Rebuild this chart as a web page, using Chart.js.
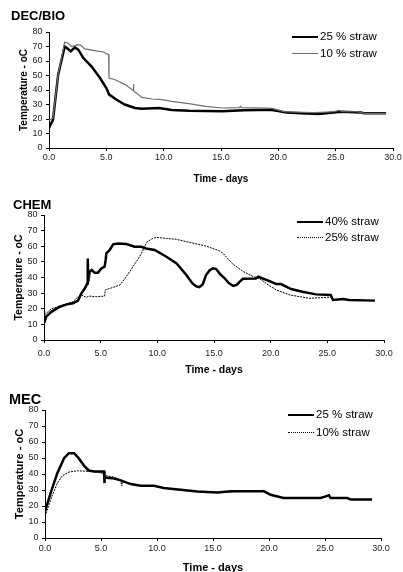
<!DOCTYPE html>
<html>
<head>
<meta charset="utf-8">
<script src="https://cdn.jsdelivr.net/npm/chart.js@4/dist/chart.umd.min.js"></script>
<style>
    body { margin: 0; background: #fff; }
    #page { position: relative; width: 403px; height: 572px; overflow: hidden; font-family: "Liberation Sans", Arial, sans-serif; }
    canvas { position: absolute; left: 0; }
    .title { position: absolute; font-weight: bold; color: #000; line-height: 16px; }
    .key { position: absolute; font-size: 11.5px; line-height: 14px; color: #000; white-space: nowrap; }
    .key .swatch { position: absolute; top: 7px; width: 26px; }
</style>
</head>
<body>
<div id="page">
    <canvas id="decBio" width="403" height="190" style="top:0px"></canvas>
    <canvas id="chem" width="403" height="190" style="top:190px"></canvas>
    <canvas id="mec" width="403" height="192" style="top:380px"></canvas>
</div>
<script>
// Panel titles and legend labels
const panelTitles = ['DEC/BIO', 'CHEM', 'MEC'];
const decBioLabels = ['25 % straw', '10 % straw'];
const chemLabels = ['40% straw', '25% straw'];
const mecLabels = ['25 % straw', '10% straw'];

// DEC/BIO - time in days and temperature in oC
const decBio25Days = [0, 0.35, 0.8, 1.37, 1.55, 1.9, 2.25, 2.55, 3.0, 3.7, 4.45, 5.0, 5.25, 5.9, 6.6, 7.5, 8.1, 9.6, 10.7, 12.2, 15.1, 17, 19.3, 20.0, 20.7, 22, 23.5, 25.5, 27.2, 27.5, 29.4];
const decBio25Temp = [13.8, 19.5, 50.6, 70, 69, 66.7, 69.4, 67.8, 62, 56.3, 48.3, 41.4, 36.8, 33.3, 30, 27.6, 27.1, 27.6, 26.2, 25.7, 25.3, 26, 26.3, 25.5, 24.4, 24, 23.5, 25, 24.5, 23.9, 23.9];
const decBio10Days = [0, 0.35, 0.8, 1.37, 1.67, 1.96, 2.25, 2.54, 2.78, 3.13, 4.0, 4.74, 5.2, 5.23, 5.76, 6.64, 7.35, 7.37, 7.4, 8.1, 9.0, 9.85, 10.7, 12.2, 13.65, 15.1, 16.6, 16.7, 16.8, 19.0, 19.5, 20.5, 23.1, 24.8, 25.3, 25.6, 26.9, 27.5, 29.4];
const decBio10Temp = [19, 20.7, 51, 73, 72.4, 70, 70.6, 71.3, 70.8, 68.3, 67.1, 66.2, 64.4, 48.3, 47.1, 43.7, 39.6, 44.1, 39.4, 34.9, 33.8, 33.3, 32.2, 30.6, 28.7, 27.6, 27.8, 28.7, 27.8, 27.6, 27.3, 25, 24.4, 25, 26, 25, 25, 23.9, 23.9];

// CHEM
const chem40Days = [0, 0.2, 0.65, 1.4, 2.0, 2.55, 3.0, 3.3, 3.6, 3.82, 3.86, 3.9, 4.03, 4.2, 4.47, 4.76, 5.06, 5.35, 5.44, 5.5, 5.8, 6.1, 6.53, 7.26, 8.0, 8.6, 9.0, 9.76, 10.8, 11.7, 12.56, 13.1, 13.4, 13.7, 14.0, 14.3, 14.6, 14.9, 15.2, 15.5, 15.94, 16.3, 16.7, 17.0, 17.3, 17.55, 18.7, 18.9, 19.9, 20.5, 20.9, 21.8, 22.8, 24.0, 25.3, 25.5, 26.4, 26.9, 29.2];
const chem40Temp = [10.7, 15, 18, 21.3, 22.8, 23.5, 25.2, 29.9, 33, 36.2, 52.2, 37.3, 43.7, 44.8, 43.1, 43.1, 45.8, 46.9, 51.2, 55.4, 57.6, 61.2, 61.8, 61.4, 59.7, 59.7, 58.6, 57.6, 53.3, 49, 41.6, 36.2, 34.5, 33.8, 35.5, 41.6, 44.5, 45.9, 45.4, 42.5, 39.5, 36.5, 34.6, 35.3, 37.5, 39.2, 39.4, 40.5, 37.7, 35.8, 35.8, 32.6, 30.9, 29.2, 28.8, 25.6, 26.2, 25.6, 25.2];
const chem25Days = [0, 0.1, 0.65, 1.4, 2.55, 3.0, 3.3, 3.73, 4.0, 4.6, 5.35, 5.4, 6.1, 6.7, 7.26, 7.85, 8.44, 8.88, 9.1, 9.6, 9.9, 10.8, 11.7, 12.85, 14.3, 15.5, 15.8, 16.6, 17.6, 18.5, 19.0, 19.8, 20.5, 21.7, 23.4, 25.05, 25.3];
const chem25Temp = [20.5, 16.5, 20.0, 21.7, 24.5, 27.7, 28.8, 27.3, 28.1, 27.7, 28.1, 32, 33.7, 35.2, 40.5, 46.9, 53.3, 59.7, 62.9, 65, 65.7, 65, 64.4, 62.5, 60.1, 57, 55.5, 49, 43.7, 40.5, 39.4, 35.2, 32, 28.8, 26.7, 27.3, 27.3];

// MEC
const mec25Days = [0, 0.5, 1.1, 1.7, 2.14, 2.6, 3.0, 3.5, 3.9, 4.4, 5.27, 5.3, 5.33, 6.0, 6.76, 7.65, 8.54, 9.73, 10.6, 12.1, 13.6, 15.4, 16.6, 19.55, 20.15, 21.3, 24.6, 25.06, 25.35, 25.5, 27.0, 27.3, 29.2];
const mec25Temp = [16.6, 28, 40.5, 49.9, 53, 53, 49.9, 45.1, 42.2, 41.6, 41.6, 34.3, 37.8, 37.4, 36, 33.7, 32.6, 32.6, 31.2, 30.1, 29.1, 28.5, 29.2, 29.2, 27, 25, 25, 26, 26.7, 25, 25, 24, 24];
const mec10Days = [0, 0.5, 1.1, 1.55, 2.14, 2.9, 4.1, 4.8, 5.27, 5.42, 6.2, 6.76, 6.85, 7.0, 7.65, 8.54, 9.73, 10.6, 12.1, 13.6, 15.4, 16.6, 19.55, 20.15, 21.3, 24.6, 25.06, 25.35, 25.5, 27.0, 27.3, 29.2];
const mec10Temp = [13.5, 23.9, 34.3, 38.9, 41.2, 42, 41.6, 41, 40.1, 38.9, 38, 36.4, 32.6, 35.5, 33.9, 32.8, 32.8, 31.2, 30.1, 29.1, 28.3, 28.8, 29.8, 27.2, 25, 25, 25.8, 26.3, 25, 25, 24, 24];

function toPoints(days, temps) {
    return days.map((d, i) => ({ x: d, y: temps[i] }));
}

const thick = { borderColor: '#000', borderWidth: 2.5 };
const thinGrey = { borderColor: '#6e6e6e', borderWidth: 1.2 };
const dotted = { borderColor: '#000', borderWidth: 1, borderDash: [2, 1] };

// layout of each panel inside its canvas
const panels = [
    {
        id: 'decBio', top: 0, padTop: 32, padRight: 10, yWidth: 49, xHeight: 42,
        xTickPad: 1, xTitlePad: 5, yTitlePad: 18.5, titleSize: 10,
        series: [
            Object.assign({ data: toPoints(decBio10Days, decBio10Temp) }, thinGrey),
            Object.assign({ data: toPoints(decBio25Days, decBio25Temp) }, thick)
        ],
        title: { left: 11, mid: 16, size: 13 },
        keys: [
            { label: decBioLabels[0], left: 292, mid: 36, line: '2.5px solid #000' },
            { label: decBioLabels[1], left: 292, mid: 53, line: '1px solid #6e6e6e' }
        ]
    },
    {
        id: 'chem', top: 190, padTop: 25, padRight: 19, yWidth: 44, xHeight: 40,
        xTickPad: 5.5, xTitlePad: 4, yTitlePad: 12.5, titleSize: 10.5,
        series: [
            Object.assign({ data: toPoints(chem25Days, chem25Temp) }, dotted),
            Object.assign({ data: toPoints(chem40Days, chem40Temp) }, thick)
        ],
        title: { left: 13, mid: 205, size: 13 },
        keys: [
            { label: chemLabels[0], left: 297, mid: 221, line: '2.5px solid #000' },
            { label: chemLabels[1], left: 297, mid: 237, line: '1px dotted #000' }
        ]
    },
    {
        id: 'mec', top: 380, padTop: 30, padRight: 22, yWidth: 45, xHeight: 34,
        xTickPad: 2.5, xTitlePad: -2.3, yTitlePad: 13.4, titleSize: 11,
        series: [
            Object.assign({ data: toPoints(mec10Days, mec10Temp) }, dotted),
            Object.assign({ data: toPoints(mec25Days, mec25Temp) }, thick)
        ],
        title: { left: 9, mid: 398.5, size: 14.5 },
        keys: [
            { label: mecLabels[0], left: 288, mid: 414, line: '2.5px solid #000' },
            { label: mecLabels[1], left: 288, mid: 432, line: '1px dotted #000' }
        ]
    }
];

const page = document.getElementById('page');

panels.forEach((p, n) => {
    // title above the plot
    const t = document.createElement('div');
    t.className = 'title';
    t.textContent = panelTitles[n];
    t.style.left = p.title.left + 'px';
    t.style.top = (p.title.mid - 8) + 'px';
    t.style.fontSize = p.title.size + 'px';
    page.appendChild(t);

    // legend in the top right corner
    p.keys.forEach(k => {
        const row = document.createElement('div');
        row.className = 'key';
        row.style.left = k.left + 'px';
        row.style.top = (k.mid - 7) + 'px';
        row.style.paddingLeft = '28px';
        const sw = document.createElement('span');
        sw.className = 'swatch';
        sw.style.left = '0px';
        sw.style.borderTop = k.line;
        row.appendChild(sw);
        row.appendChild(document.createTextNode(k.label));
        page.appendChild(row);
    });

    new Chart(document.getElementById(p.id), {
        type: 'line',
        data: {
            datasets: p.series.map(s => Object.assign({ pointRadius: 0, tension: 0, fill: false }, s))
        },
        options: {
            responsive: false,
            animation: false,
            devicePixelRatio: 1,
            layout: { padding: { top: p.padTop, right: p.padRight, left: 0, bottom: 0 } },
            plugins: { legend: { display: false }, tooltip: { enabled: false } },
            scales: {
                x: {
                    type: 'linear', min: 0, max: 30,
                    ticks: {
                        stepSize: 5, maxRotation: 0, padding: p.xTickPad, color: '#222',
                        font: { family: 'Liberation Sans', size: 9 },
                        callback: v => v.toFixed(1)
                    },
                    grid: { drawOnChartArea: false, tickLength: 3, color: '#000' },
                    border: { color: '#000', width: 1 },
                    title: {
                        display: true, text: 'Time - days', color: '#000',
                        font: { family: 'Liberation Sans', size: p.titleSize, weight: 'bold', lineHeight: 1.2 },
                        padding: { top: 0, bottom: p.xTitlePad }
                    },
                    afterFit: s => { s.height = p.xHeight; }
                },
                y: {
                    min: 0, max: 80,
                    ticks: {
                        stepSize: 10, padding: 3.5, color: '#222',
                        font: { family: 'Liberation Sans', size: 9 }
                    },
                    grid: { drawOnChartArea: false, tickLength: 3, color: '#000' },
                    border: { color: '#000', width: 1 },
                    title: {
                        display: true, text: 'Temperature - oC', color: '#000',
                        font: { family: 'Liberation Sans', size: p.titleSize, weight: 'bold', lineHeight: 1.2 },
                        padding: { top: p.yTitlePad, bottom: 0 }
                    },
                    afterFit: s => { s.width = p.yWidth; }
                }
            }
        }
    });
});
</script>
</body>
</html>
